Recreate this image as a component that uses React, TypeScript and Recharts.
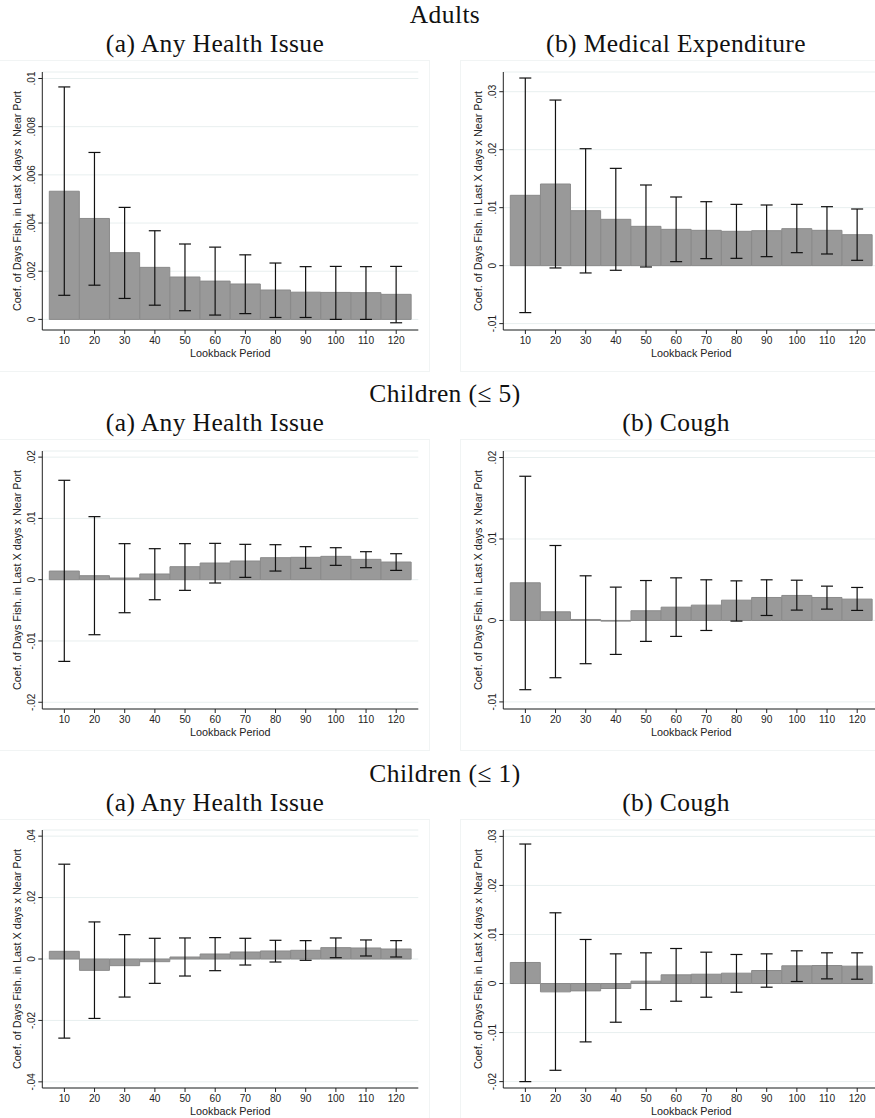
import React from 'react';
import { ComposedChart, Bar, ErrorBar, XAxis, YAxis, CartesianGrid, Label } from 'recharts';

// lookback periods (days)
const periods = [10, 20, 30, 40, 50, 60, 70, 80, 90, 100, 110, 120];

// Adults - any health issue
const adultsAnyCoef = [0.00532, 0.00419, 0.00277, 0.00216, 0.00176, 0.00159, 0.00147, 0.00122, 0.00113, 0.00112, 0.00111, 0.00104];
const adultsAnyLo = [0.0010, 0.00142, 0.00087, 0.00059, 0.00036, 0.00018, 0.00024, 0.00008, 0.00008, 0.0, 0.0, -0.00014];
const adultsAnyHi = [0.00965, 0.00693, 0.00465, 0.00368, 0.00313, 0.0030, 0.00268, 0.00234, 0.00219, 0.0022, 0.00219, 0.0022];

// Adults - medical expenditure
const adultsMedCoef = [0.01213, 0.01408, 0.00948, 0.00799, 0.00678, 0.00626, 0.00609, 0.00592, 0.00603, 0.00638, 0.00609, 0.00534];
const adultsMedLo = [-0.0081, -0.0004, -0.00126, -0.0008, -0.00023, 0.00069, 0.00121, 0.00126, 0.00155, 0.00224, 0.00201, 0.00092];
const adultsMedHi = [0.03236, 0.02856, 0.02017, 0.01678, 0.01391, 0.01184, 0.01103, 0.01057, 0.01046, 0.01057, 0.01017, 0.00977];

// Children (<=5) - any health issue
const kids5AnyCoef = [0.00141, 0.00065, 0.00027, 0.00093, 0.00212, 0.00272, 0.00305, 0.00359, 0.00365, 0.00381, 0.00332, 0.00288];
const kids5AnyLo = [-0.01333, -0.00898, -0.00539, -0.00327, -0.00174, -0.00054, 0.00038, 0.00141, 0.00185, 0.00234, 0.00196, 0.00152];
const kids5AnyHi = [0.01622, 0.01029, 0.00588, 0.00506, 0.00588, 0.00593, 0.00577, 0.00571, 0.00539, 0.00522, 0.00457, 0.00424];

// Children (<=5) - cough
const kids5CoughCoef = [0.00462, 0.00106, 0.00012, -0.00008, 0.00119, 0.00163, 0.00188, 0.00249, 0.00282, 0.00307, 0.00282, 0.00262];
const kids5CoughLo = [-0.0085, -0.00703, -0.00531, -0.00417, -0.00257, -0.00196, -0.00123, -0.00008, 0.00061, 0.00127, 0.00139, 0.00123];
const kids5CoughHi = [0.0177, 0.0092, 0.00548, 0.00409, 0.0049, 0.00523, 0.00499, 0.00486, 0.00499, 0.00494, 0.00421, 0.00405];

// Children (<=1) - any health issue
const kids1AnyCoef = [0.0025, -0.0037, -0.00217, -0.00087, 0.00065, 0.00163, 0.00228, 0.00261, 0.00283, 0.0037, 0.00359, 0.00326];
const kids1AnyLo = [-0.02576, -0.01935, -0.01239, -0.00793, -0.00554, -0.0038, -0.00196, -0.00098, -0.00043, 0.00043, 0.00098, 0.00065];
const kids1AnyHi = [0.03087, 0.01207, 0.00793, 0.00674, 0.00685, 0.00696, 0.00674, 0.00609, 0.00598, 0.00685, 0.0062, 0.00598];

// Children (<=1) - cough
const kids1CoughCoef = [0.00429, -0.0017, -0.0015, -0.00102, 0.00048, 0.00177, 0.0019, 0.00211, 0.00265, 0.00361, 0.00367, 0.00354];
const kids1CoughLo = [-0.02, -0.01769, -0.0119, -0.00789, -0.00531, -0.00361, -0.00279, -0.00177, -0.00075, 0.00041, 0.00095, 0.00088];
const kids1CoughHi = [0.02844, 0.01442, 0.00898, 0.00605, 0.00626, 0.00714, 0.00639, 0.00592, 0.00605, 0.00667, 0.00626, 0.00626];

// y axis ticks per panel
const ticksAdultsAny = [0, 0.002, 0.004, 0.006, 0.008, 0.01];
const ticksAdultsMed = [-0.01, 0, 0.01, 0.02, 0.03];
const ticksKids5Any = [-0.02, -0.01, 0, 0.01, 0.02];
const ticksKids5Cough = [-0.01, 0, 0.01, 0.02];
const ticksKids1Any = [-0.04, -0.02, 0, 0.02, 0.04];
const ticksKids1Cough = [-0.02, -0.01, 0, 0.01, 0.02, 0.03];

const SANS = '"Liberation Sans", Arial, sans-serif';
const SERIF = '"Liberation Serif", "Times New Roman", serif';
const Y_TITLE = 'Coef. of Days Fish. in Last X days x Near Port';

const fmt = (v: number) => {
  if (v === 0) return '0';
  const s = Math.abs(v).toString().replace(/^0/, '');
  return (v < 0 ? '-' : '') + s;
};

const buildRows = (coef: number[], lo: number[], hi: number[]) =>
  periods.map((p, i) => ({
    period: p,
    coef: coef[i],
    err: [coef[i] - lo[i], hi[i] - coef[i]],
  }));

const YTick = (props: any) => {
  const { x, y, payload } = props;
  return (
    <text x={x} y={y} transform={`rotate(-90 ${x} ${y})`} textAnchor="middle"
      fontSize={10} fill="#222" fontFamily={SANS}>
      {fmt(payload.value)}
    </text>
  );
};

const YTitle = (props: any) => {
  const { viewBox } = props;
  const x = viewBox.x + 8.7;
  const y = viewBox.y + viewBox.height / 2;
  return (
    <text x={x} y={y} transform={`rotate(-90 ${x} ${y})`} textAnchor="middle"
      fontSize={10.8} fill="#222" fontFamily={SANS}>
      {Y_TITLE}
    </text>
  );
};

const XTitle = (props: any) => {
  const { viewBox } = props;
  return (
    <text x={viewBox.x + viewBox.width / 2} y={viewBox.y + 26.5} textAnchor="middle"
      fontSize={10.8} fill="#222" fontFamily={SANS}>
      Lookback Period
    </text>
  );
};

interface PanelProps {
  coef: number[];
  lo: number[];
  hi: number[];
  ticks: number[];
  domain: [number, number];
  left: number;
  top: number;
}

const Panel: React.FC<PanelProps> = ({ coef, lo, hi, ticks, domain, left, top }) => {
  const rows = buildRows(coef, lo, hi);
  return (
    <div style={{ position: 'absolute', left, top }}>
      <ComposedChart width={428} height={296} data={rows} barCategoryGap={0}
        margin={{ top: 5, right: 9.7, bottom: 0, left: 12.3 }}>
        <CartesianGrid horizontal vertical={false} stroke="#e8efef" strokeWidth={1} />
        <XAxis dataKey="period" type="category" padding={{ left: 7, right: 7 }} height={33}
          tickSize={4} tickMargin={3} stroke="#222" interval={0}
          tick={{ fontSize: 10.2, fill: '#222', fontFamily: SANS }}>
          <Label content={XTitle} />
        </XAxis>
        <YAxis type="number" domain={domain} ticks={ticks} allowDataOverflow width={30}
          tickSize={4} tickMargin={3} stroke="#222" tick={YTick}>
          <Label content={YTitle} />
        </YAxis>
        <Bar dataKey="coef" fill="#999999" stroke="#8a8a8a" strokeWidth={1} isAnimationActive={false}>
          <ErrorBar dataKey="err" width={6} stroke="#111" strokeWidth={1.2} isAnimationActive={false} />
        </Bar>
      </ComposedChart>
    </div>
  );
};

const rowGap = 379.3;
const rowTitles = ['Adults', 'Children (≤ 5)', 'Children (≤ 1)'];
const leftTitles = ['(a) Any Health Issue', '(a) Any Health Issue', '(a) Any Health Issue'];
const rightTitles = ['(b) Medical Expenditure', '(b) Cough', '(b) Cough'];

export default function App() {
  const plotTop = 71.7;
  const chartTop = (r: number) => plotTop + r * rowGap - 5;
  return (
    <div style={{ position: 'absolute', left: 0, top: 0, width: 875, height: 1118, overflow: 'hidden', background: '#fff' }}>
      {[0, 1, 2].map(r => (
        <React.Fragment key={r}>
          <div style={{ position: 'absolute', left: -2, top: 60 + r * rowGap, width: 432, height: 312, border: '1px solid #f1f4f4', boxSizing: 'border-box' }} />
          <div style={{ position: 'absolute', left: 460, top: 60 + r * rowGap, width: 440, height: 312, border: '1px solid #f1f4f4', boxSizing: 'border-box' }} />
        </React.Fragment>
      ))}
      <Panel coef={adultsAnyCoef} lo={adultsAnyLo} hi={adultsAnyHi} ticks={ticksAdultsAny}
        domain={[-0.00044, 0.01027]} left={0} top={chartTop(0)} />
      <Panel coef={adultsMedCoef} lo={adultsMedLo} hi={adultsMedHi} ticks={ticksAdultsMed}
        domain={[-0.0111, 0.0334]} left={461} top={chartTop(0)} />
      <Panel coef={kids5AnyCoef} lo={kids5AnyLo} hi={kids5AnyHi} ticks={ticksKids5Any}
        domain={[-0.0211, 0.021]} left={0} top={chartTop(1)} />
      <Panel coef={kids5CoughCoef} lo={kids5CoughLo} hi={kids5CoughHi} ticks={ticksKids5Cough}
        domain={[-0.01087, 0.0208]} left={461} top={chartTop(1)} />
      <Panel coef={kids1AnyCoef} lo={kids1AnyLo} hi={kids1AnyHi} ticks={ticksKids1Any}
        domain={[-0.042, 0.042]} left={0} top={chartTop(2)} />
      <Panel coef={kids1CoughCoef} lo={kids1CoughLo} hi={kids1CoughHi} ticks={ticksKids1Cough}
        domain={[-0.0213, 0.0313]} left={461} top={chartTop(2)} />
      <svg width={875} height={1118} style={{ position: 'absolute', left: 0, top: 0, pointerEvents: 'none' }}>
        {[0, 1, 2].map(r => (
          <g key={r} fontFamily={SERIF} fill="#111" fontSize={25.5} letterSpacing={0.4}>
            <text x={445} y={23 + r * rowGap} textAnchor="middle">{rowTitles[r]}</text>
            <text x={215} y={52 + r * rowGap} textAnchor="middle">{leftTitles[r]}</text>
            <text x={676} y={52 + r * rowGap} textAnchor="middle">{rightTitles[r]}</text>
          </g>
        ))}
      </svg>
    </div>
  );
}
